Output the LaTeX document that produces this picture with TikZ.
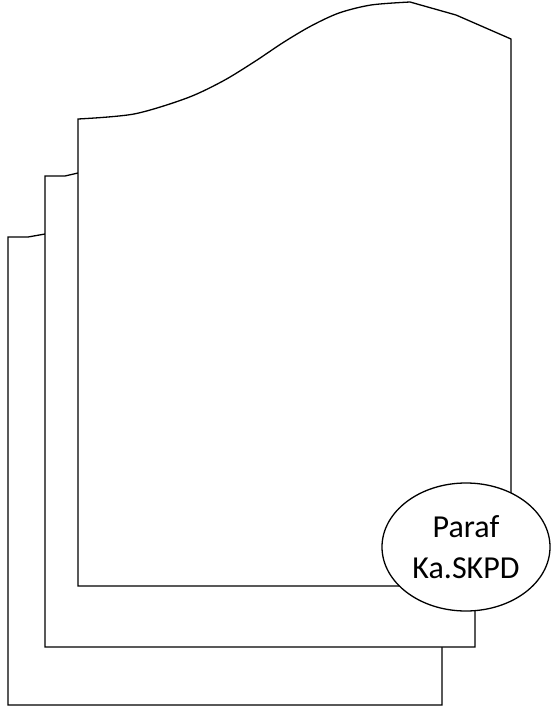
\documentclass[tikz,border=0pt]{standalone}
\usepackage{fontspec}
\setmainfont{Carlito}
\usetikzlibrary{shapes.geometric}
\begin{document}
\begin{tikzpicture}[x=1pt,y=-1pt,
  docpage/.style={draw=black,fill=white,line width=1.3pt,line join=miter},
  stamp/.style={ellipse,draw=black,fill=white,line width=1.3pt,minimum width=168pt,minimum height=128pt,inner sep=0pt,align=center,font=\fontsize{32}{41}\selectfont}]
\useasboundingbox (0,0) rectangle (551,707);
% back page
\draw[docpage] (8,705) -- (8,237) -- (28,237) -- (45,234) -- (442,234) -- (442,705) -- cycle;
% middle page
\draw[docpage] (45,647) -- (45,176) -- (65,176) -- (78,173) -- (475,173) -- (475,647) -- cycle;
% front page
\draw[docpage] (78,586)
  -- plot[smooth,tension=0.5] coordinates {(78,119) (134,114) (187,98) (223,81) (254,62) (284,42) (311,26) (339,13) (371,5) (410,2)}
  -- (456,15) -- (511,39) -- (511,586) -- cycle;
\node[stamp] (paraf) at (466,547) {Paraf\\Ka.SKPD};
\end{tikzpicture}
\end{document}
